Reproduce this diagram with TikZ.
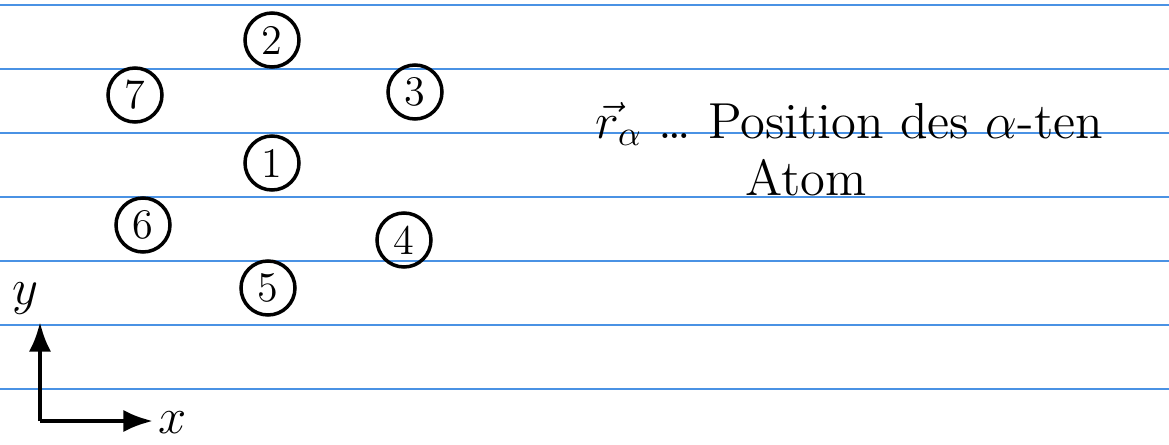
\documentclass[tikz,border=0pt]{standalone}
\usepackage{amsmath,amssymb}
\usepackage{tikz}
\usetikzlibrary{arrows.meta, positioning}
\definecolor{lineblue}{RGB}{74,146,228}
\tikzset{atom/.style={draw, circle, line width=1pt, minimum size=0.54cm, inner sep=0pt, font=\large}}

\begin{document}
\begin{tikzpicture}
	\useasboundingbox (0,0) rectangle (11.69,4.44);
	% Linien
	\foreach \y in {4.39,3.75,3.11,2.47,1.83,1.19,0.55}
		\draw[lineblue, line width=0.6pt] (0,\y) -- (11.69,\y);

	% Atome
	\node[atom] (a1) at (2.72,2.81) {1};
	\node[atom] (a2) at (2.72,4.04) {2};
	\node[atom] (a3) at (4.15,3.52) {3};
	\node[atom] (a4) at (4.04,2.04) {4};
	\node[atom] (a5) at (2.68,1.56) {5};
	\node[atom] (a6) at (1.43,2.19) {6};
	\node[atom] (a7) at (1.35,3.49) {7};

	% Koordinatensystem
	\coordinate (o) at (0.40,0.23);
	\coordinate (ye) at (0.40,1.22);
	\coordinate (xe) at (1.53,0.23);
	\draw[very thick, -{Latex}] (o) -- (ye);
	\draw[very thick, -{Latex}] (o) -- (xe);
	\node[font=\Large] (ly) at (0.25,1.45) {$y$};
	\node[font=\Large] (lx) at (1.73,0.21) {$x$};

	% Text
	\node[anchor=base west, font=\Large, inner sep=0pt] (txt) at (5.95,3.06) {$\vec{r}_\alpha$ \dots\ Position des $\alpha$-ten};
	\node[anchor=base west, font=\Large, inner sep=0pt] (txt2) at (7.45,2.49) {Atom};
\end{tikzpicture}
\end{document}
